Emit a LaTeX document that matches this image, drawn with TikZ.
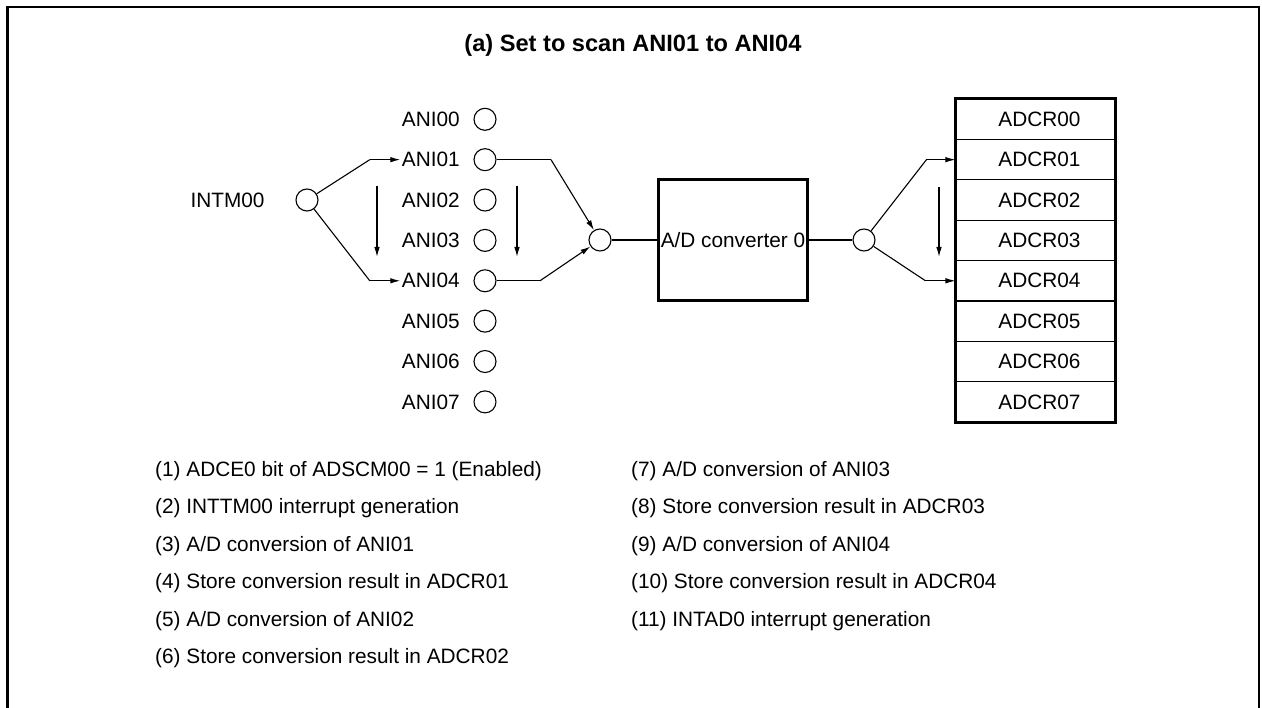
\documentclass[tikz,border=0pt]{standalone}
\usepackage{fontspec}
\setmainfont{Liberation Sans}
\usetikzlibrary{arrows.meta,calc}
\begin{document}
\begin{tikzpicture}[x=1pt,y=-1pt,
  every node/.style={font=\fontsize{20.8}{25}\selectfont},
  port/.style={circle, draw, line width=1.1pt, minimum size=22pt, inner sep=0pt},
  lbl/.style={inner sep=0pt},
  legend/.style={inner sep=0pt, anchor=base west},
  reg/.style={rectangle, draw, line width=1.1pt, minimum width=159pt, minimum height=40.37pt, inner sep=0pt},
  conv/.style={rectangle, draw, line width=2.6pt, minimum width=149.5pt, minimum height=121.5pt, inner sep=0pt},
  arr/.style={line width=1.1pt, -{Latex[length=10pt,width=5.5pt]}},
  wire/.style={line width=1.1pt},
]
\useasboundingbox (0,0) rectangle (1262,708);
% outer frame (open at the bottom)
\draw[line width=2.6pt] (7.2,720) -- (7.2,7.2) -- (1259,7.2) -- (1259,720);

% title
\node[font=\fontsize{23.6}{28}\selectfont\bfseries] (title) at (633,45) {(a) Set to scan ANI01 to ANI04};

% analog inputs and result registers
\foreach \i in {0,...,7}{
  \node[port] (c\i) at (485,{119.3+40.37*\i}) {};
  \node[lbl, anchor=east] (a\i) at (460,{119.3+40.37*\i}) {ANI0\i};
  \node[reg] (r\i) at (1035.5,{119.3+40.37*\i}) {\hspace*{8pt}ADCR0\i};
}
\draw[line width=2.8pt] (r0.north west) rectangle (r7.south east);

% INTM00
\node[port] (int) at (307,200) {};
\node[lbl] (intl) at (227.5,200) {INTM00};
\coordinate (ib1) at ($(a1.west)+(-32,0)$);
\coordinate (ib4) at ($(a4.west)+(-32,0)$);
\draw[wire] (int) -- (ib1);
\draw[arr, shorten >=1.5pt] (ib1) -- (a1.west);
\draw[wire] (int) -- (ib4);
\draw[arr, shorten >=1.5pt] (ib4) -- (a4.west);

% scan direction arrows
\coordinate (s1a) at (377,186); \coordinate (s1b) at (377,257);
\coordinate (s2a) at (517,186); \coordinate (s2b) at (517,257);
\coordinate (s3a) at (939,187); \coordinate (s3b) at (939,257);
\draw[arr] (s1a) -- (s1b);
\draw[arr] (s2a) -- (s2b);
\draw[arr] (s3a) -- (s3b);

% multiplexer, converter, demultiplexer
\node[port] (mux) at (600,240) {};
\node[conv] (conv) at (733,240) {A/D converter 0};
\node[port] (dmx) at (864,240) {};

\coordinate (mb1) at ($(c1)+(66,0)$);
\coordinate (mb4) at ($(c4)+(55,0)$);
\draw[wire] (c1) -- (mb1);
\draw[arr] (mb1) -- (mux);
\draw[wire] (c4) -- (mb4);
\draw[arr] (mb4) -- (mux);

\draw[wire] (mux) -- (conv);
\draw[wire] (conv) -- (dmx);

\coordinate (db1) at ($(r1.west)+(-29,0)$);
\coordinate (db4) at ($(r4.west)+(-30,0)$);
\draw[wire] (dmx) -- (db1);
\draw[arr] (db1) -- (r1.west);
\draw[wire] (dmx) -- (db4);
\draw[arr] (db4) -- (r4.west);

% legend
\node[legend] (l1) at (155,476.5) {(1) ADCE0 bit of ADSCM00 = 1 (Enabled)};
\node[legend] (l2) at (155,513.9) {(2) INTTM00 interrupt generation};
\node[legend] (l3) at (155,551.3) {(3) A/D conversion of ANI01};
\node[legend] (l4) at (155,588.7) {(4) Store conversion result in ADCR01};
\node[legend] (l5) at (155,626.1) {(5) A/D conversion of ANI02};
\node[legend] (l6) at (155,663.5) {(6) Store conversion result in ADCR02};
\node[legend] (l7) at (631,476.5) {(7) A/D conversion of ANI03};
\node[legend] (l8) at (631,513.9) {(8) Store conversion result in ADCR03};
\node[legend] (l9) at (631,551.3) {(9) A/D conversion of ANI04};
\node[legend] (l10) at (631,588.7) {(10) Store conversion result in ADCR04};
\node[legend] (l11) at (631,626.1) {(11) INTAD0 interrupt generation};
\end{tikzpicture}
\end{document}
